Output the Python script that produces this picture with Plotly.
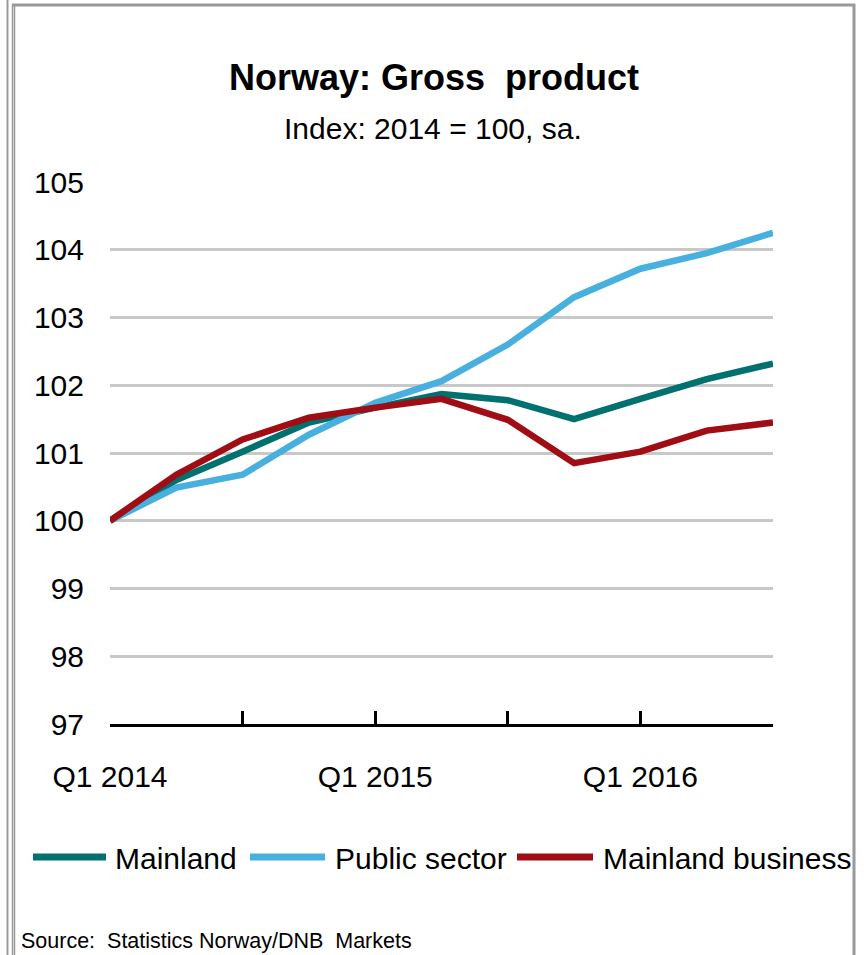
import plotly.graph_objects as go

quarters = ["Q1 2014", "Q2 2014", "Q3 2014", "Q4 2014",
            "Q1 2015", "Q2 2015", "Q3 2015", "Q4 2015",
            "Q1 2016", "Q2 2016", "Q3 2016"]
mainland = [100.0, 100.60, 101.02, 101.45, 101.67, 101.87, 101.78, 101.50, 101.80, 102.09, 102.32]
public_sector = [100.0, 100.49, 100.68, 101.27, 101.74, 102.06, 102.60, 103.30, 103.72, 103.95, 104.25]
mainland_business = [100.0, 100.68, 101.20, 101.52, 101.67, 101.80, 101.49, 100.85, 101.02, 101.33, 101.45]

series_names = ["Mainland", "Public sector", "Mainland business"]
colors = ["#00716E", "#48B0DF", "#A00D14"]
series = [mainland, public_sector, mainland_business]

tick_quarters = quarters[::2]
tick_labels = [q if q.startswith("Q1") else "" for q in tick_quarters]
y_ticks = [97, 98, 99, 100, 101, 102, 103, 104, 105]

FONT = "Liberation Sans Narrow, Arial Narrow, Liberation Sans, Arial, sans-serif"

W, H = 866, 955
L, R, T, B = 110, 93, 182, 231

fig = go.Figure()
for name, vals, col in zip(series_names, series, colors):
    fig.add_trace(go.Scatter(x=quarters, y=vals, mode="lines", name=name,
                             line=dict(color=col, width=6.5), showlegend=False))

fig.update_layout(
    width=W, height=H, autosize=False,
    margin=dict(l=L, r=R, t=T, b=B),
    paper_bgcolor="white", plot_bgcolor="white",
    font=dict(family=FONT, color="black", size=30),
)
fig.update_xaxes(
    type="category", range=[0, 10],
    tickmode="array", tickvals=tick_quarters, ticktext=tick_labels,
    showgrid=False, zeroline=False,
    showline=True, linecolor="black", linewidth=3,
    ticks="inside", ticklen=13, tickwidth=2.5, tickcolor="black",
    tickfont=dict(family=FONT, size=30), ticklabelstandoff=24,
)
fig.update_yaxes(
    range=[97, 105], tickmode="array", tickvals=y_ticks,
    showgrid=True, gridcolor="#C8C8C8", gridwidth=3,
    zeroline=False, showline=False, ticks="",
    tickfont=dict(family=FONT, size=30), ticklabelstandoff=25,
)

def px_x(px):
    return (px - L) / (W - L - R)

def px_y(py):
    return (H - B - py) / (H - T - B)

# Title and subtitle
fig.add_annotation(text="<b>Norway: Gross  product</b>", xref="paper", yref="paper",
                   x=px_x(434), y=px_y(78), showarrow=False,
                   font=dict(family=FONT, size=36), xanchor="center", yanchor="middle")
fig.add_annotation(text="Index: 2014 = 100, sa.", xref="paper", yref="paper",
                   x=px_x(433), y=px_y(128), showarrow=False,
                   font=dict(family=FONT, size=30), xanchor="center", yanchor="middle")

# Custom legend
legend_items = [(33, 106, 113), (250, 325, 333), (517, 593, 601)]
for (x0, x1, tx), name, col in zip(legend_items, series_names, colors):
    fig.add_shape(type="line", xref="paper", yref="paper",
                  x0=px_x(x0), x1=px_x(x1), y0=px_y(857), y1=px_y(857),
                  line=dict(color=col, width=7))
    fig.add_annotation(text=name, xref="paper", yref="paper",
                       x=px_x(tx), y=px_y(858), showarrow=False,
                       xanchor="left", yanchor="middle",
                       font=dict(family=FONT, size=30))

# Source
fig.add_annotation(text="Source:  Statistics Norway/DNB  Markets", xref="paper", yref="paper",
                   x=px_x(19), y=px_y(941), showarrow=False,
                   xanchor="left", yanchor="middle",
                   font=dict(family=FONT, size=21.5))

# Frame lines
fig.add_shape(type="line", xref="paper", yref="paper",
              x0=px_x(7.5), x1=px_x(7.5), y0=px_y(0), y1=px_y(960),
              line=dict(color="#999999", width=2))
fig.add_shape(type="line", xref="paper", yref="paper",
              x0=px_x(12.5), x1=px_x(12.5), y0=px_y(4), y1=px_y(960),
              line=dict(color="#999999", width=1.5))
fig.add_shape(type="line", xref="paper", yref="paper",
              x0=px_x(14.5), x1=px_x(14.5), y0=px_y(6), y1=px_y(960),
              line=dict(color="#999999", width=1.5))
fig.add_shape(type="line", xref="paper", yref="paper",
              x0=px_x(12), x1=px_x(855), y0=px_y(5), y1=px_y(5),
              line=dict(color="#999999", width=3))
fig.add_shape(type="line", xref="paper", yref="paper",
              x0=px_x(854), x1=px_x(854), y0=px_y(4), y1=px_y(960),
              line=dict(color="#999999", width=3))

fig.write_html("out.html", config={"displayModeBar": False},
               post_script="document.body.style.margin='0';")
